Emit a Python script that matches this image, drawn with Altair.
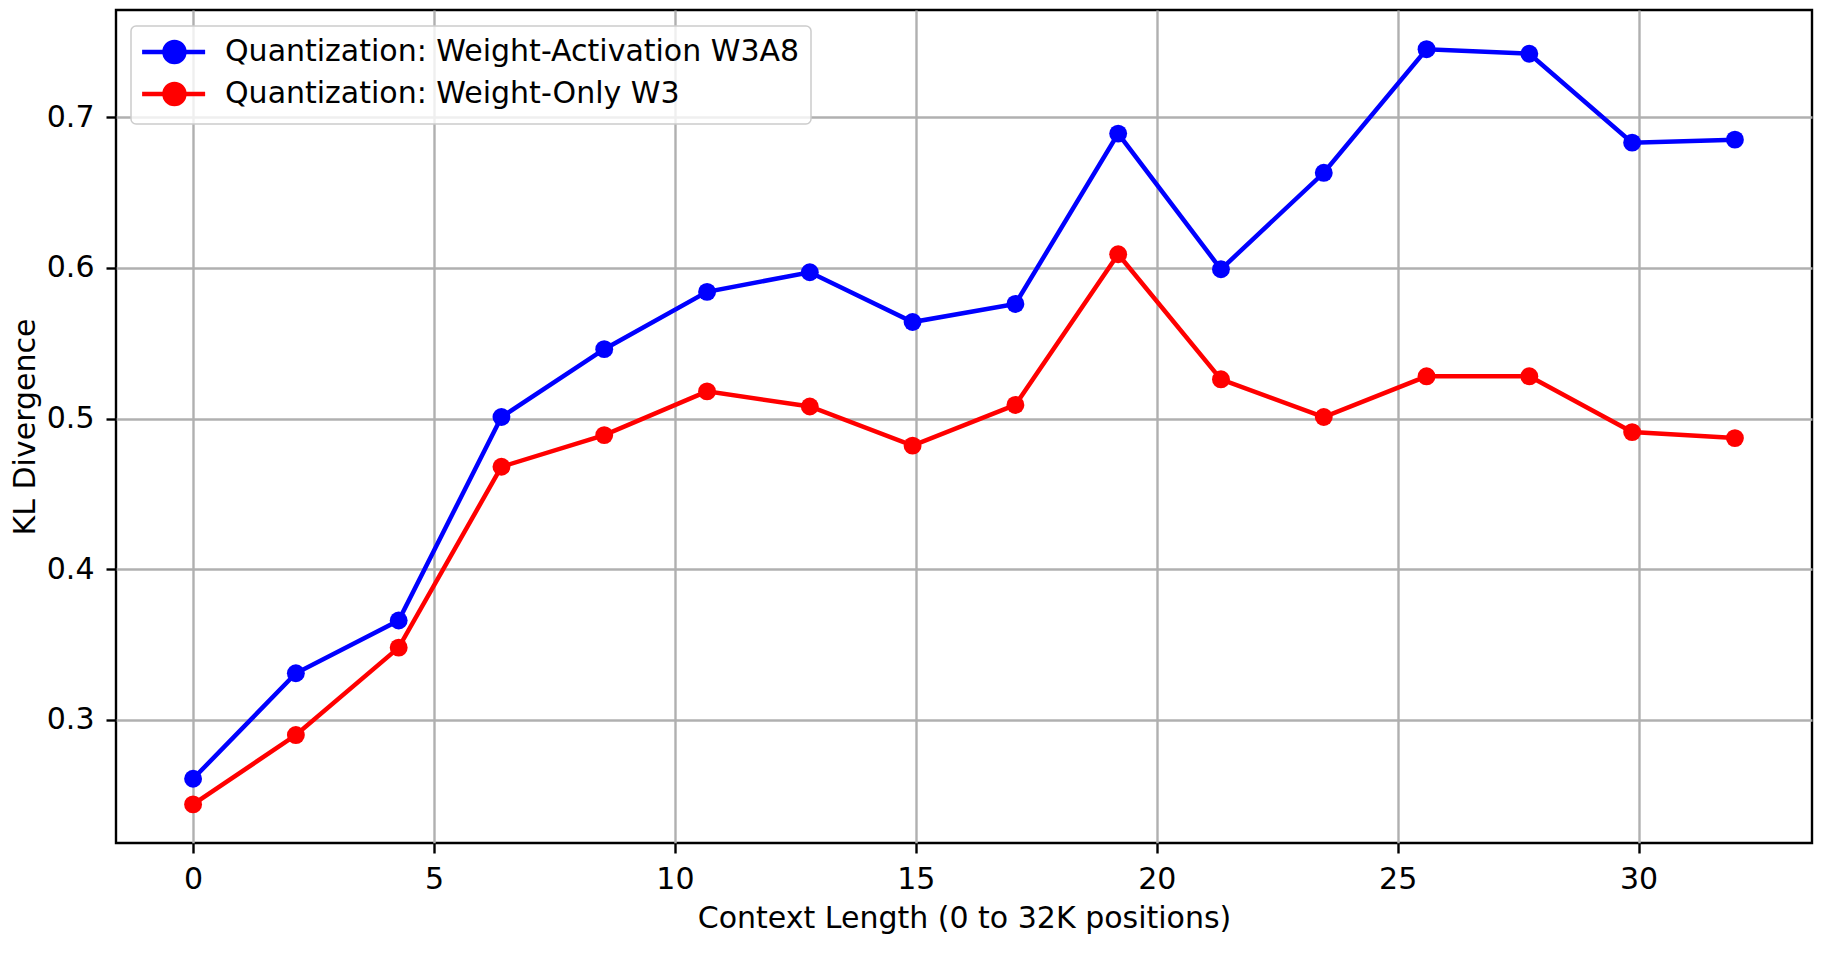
import altair as alt
import pandas as pd

# Data
x_vals = [0.0, 2.133, 4.267, 6.4, 8.533, 10.667, 12.8, 14.933,
          17.067, 19.2, 21.333, 23.467, 25.6, 27.733, 29.867, 32.0]
wa_vals = [0.261, 0.331, 0.366, 0.501, 0.546, 0.584, 0.597, 0.564,
           0.576, 0.689, 0.599, 0.663, 0.745, 0.742, 0.683, 0.685]
wo_vals = [0.244, 0.290, 0.348, 0.468, 0.489, 0.518, 0.508, 0.482,
           0.509, 0.609, 0.526, 0.501, 0.528, 0.528, 0.491, 0.487]
series_names = ["Quantization: Weight-Activation W3A8", "Quantization: Weight-Only W3"]
series_colors = ["#0000ff", "#ff0000"]
x_ticks = [0, 5, 10, 15, 20, 25, 30]
y_ticks = [0.3, 0.4, 0.5, 0.6, 0.7]

rows = []
for xv, yv in zip(x_vals, wa_vals):
    rows.append({"x": xv, "y": yv, "series": series_names[0]})
for xv, yv in zip(x_vals, wo_vals):
    rows.append({"x": xv, "y": yv, "series": series_names[1]})
df = pd.DataFrame(rows)

# legend handle: a line with a filled circle marker in its middle
handle_path = ("M-1.24,0L4.01,0M0.621,0A0.833,0.833,0,1,0,2.287,0"
               "A0.833,0.833,0,1,0,0.621,0Z")

legend = alt.Legend(
    title=None,
    orient="none",
    legendX=15,
    legendY=16,
    symbolType=handle_path,
    symbolSize=576,
    symbolStrokeWidth=4.5,
    labelFontSize=30,
    labelFont="DejaVu Sans",
    labelColor="black",
    labelLimit=2000,
    labelOffset=53,
    rowPadding=4,
    padding=11,
    cornerRadius=5,
    strokeColor="#cccccc",
    fillColor="rgba(255,255,255,0.8)",
)

color = alt.Color("series:N",
                  scale=alt.Scale(domain=series_names, range=series_colors),
                  legend=legend)

x_enc = alt.X("x:Q",
              scale=alt.Scale(domain=[-1.6, 33.6], nice=False, zero=False),
              axis=alt.Axis(values=x_ticks, title="Context Length (0 to 32K positions)",
                            format="d"))
y_enc = alt.Y("y:Q",
              scale=alt.Scale(domain=[0.2184, 0.771], nice=False, zero=False),
              axis=alt.Axis(values=y_ticks, title="KL Divergence", format=".1f"))

layers = []
for name in series_names:
    base = alt.Chart(df).transform_filter(alt.datum.series == name)
    layers.append(base.mark_line(strokeWidth=4.5).encode(x=x_enc, y=y_enc, color=color))
    layers.append(base.mark_point(filled=True, size=320, opacity=1, shape="circle")
                  .encode(x=x_enc, y=y_enc, color=color))

chart = alt.layer(*layers).properties(
    width=1696,
    height=833,
    autosize=alt.AutoSizeParams(type="none"),
    padding={"left": 108, "top": 2, "right": 13, "bottom": 111},
).configure(
    font="DejaVu Sans",
).configure_view(
    stroke="black",
    strokeWidth=2.4,
).configure_legend(
    strokeWidth=1.5,
).configure_axis(
    domain=False,
    grid=True,
    gridColor="#b0b0b0",
    gridWidth=2.4,
    gridOpacity=1,
    ticks=True,
    tickColor="black",
    tickWidth=2.4,
    tickSize=10,
    labelFontSize=30,
    labelColor="black",
    labelFont="DejaVu Sans",
    titleFontSize=30,
    titleFontWeight="normal",
    titleColor="black",
    titleFont="DejaVu Sans",
).configure_axisX(
    labelPadding=11,
    titlePadding=9,
).configure_axisY(
    labelPadding=12,
    titlePadding=6,
)

chart.save("out.html", embed_options={"renderer": "svg", "actions": False})
